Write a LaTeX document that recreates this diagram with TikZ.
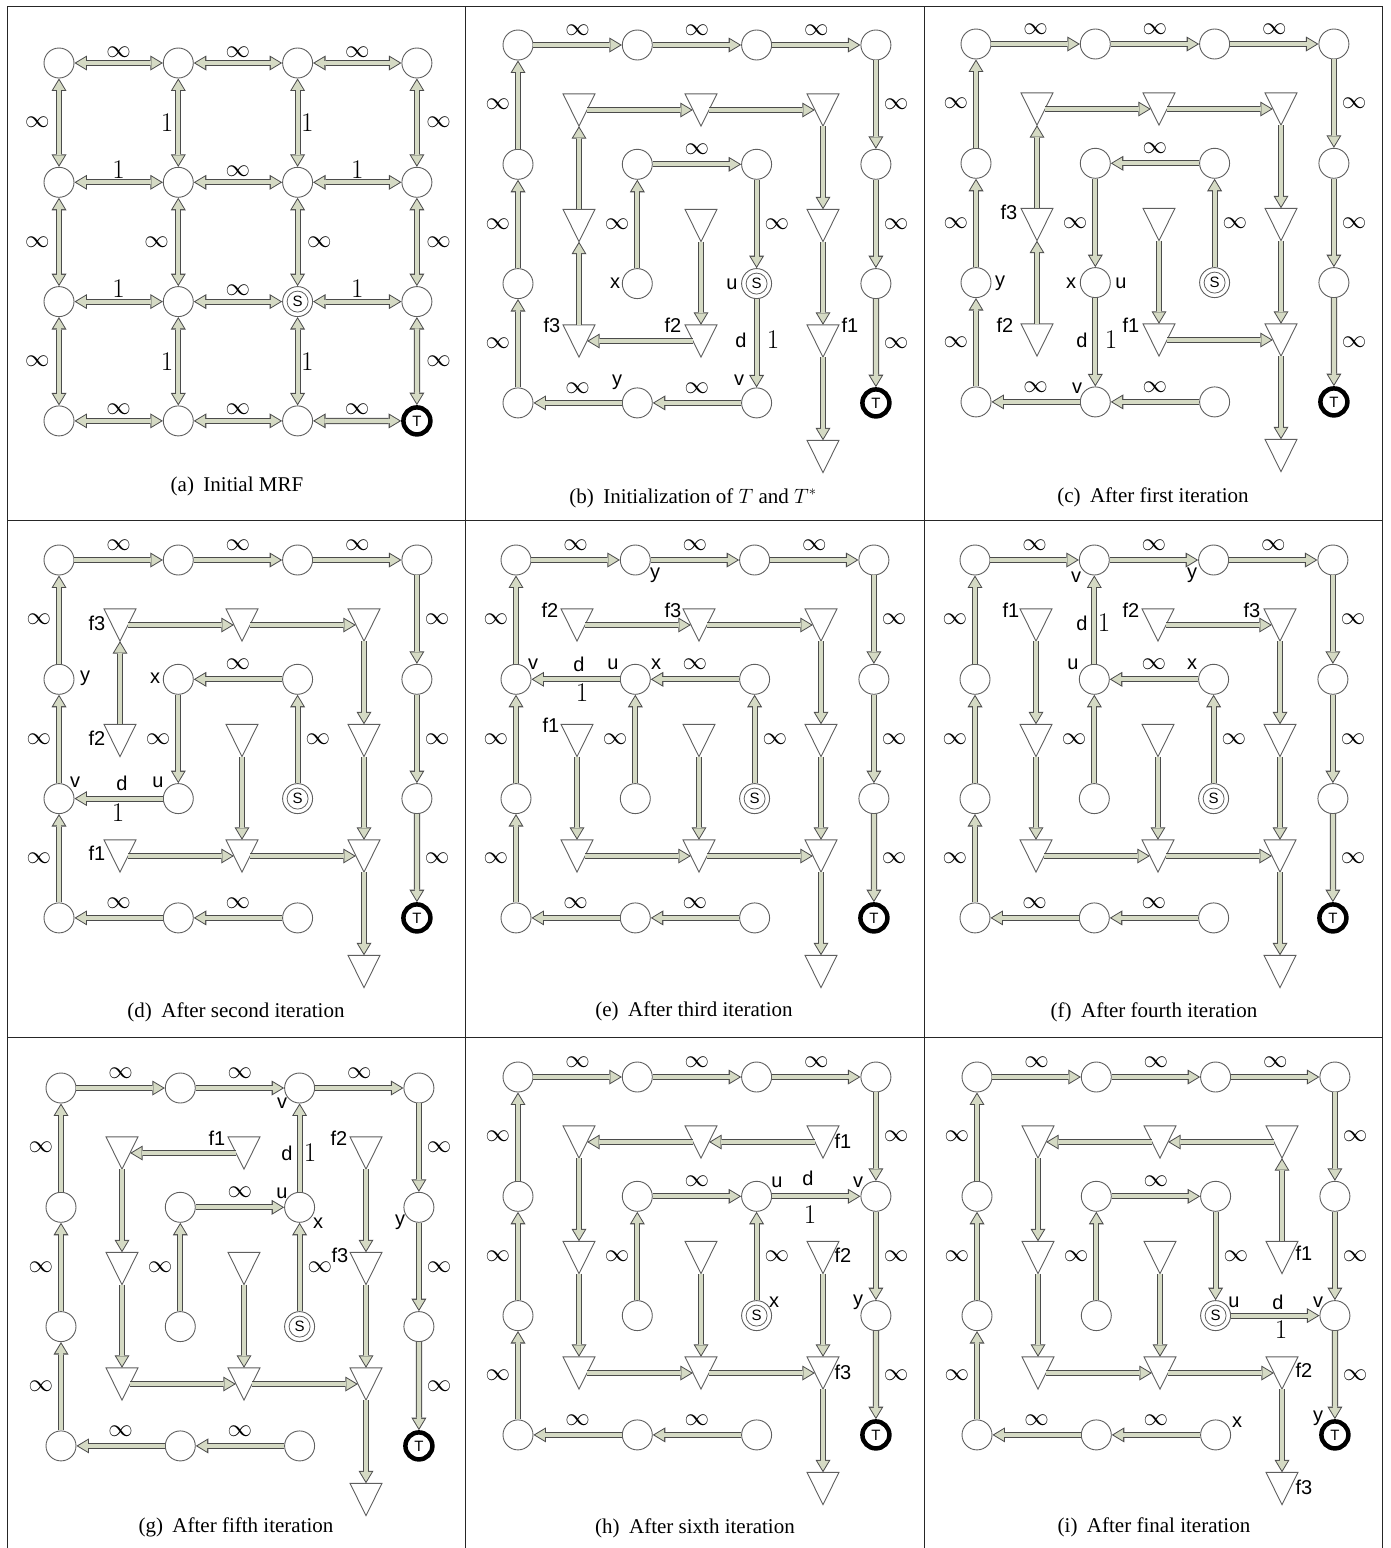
\documentclass[tikz,border=0pt]{standalone}
\usepackage{fontspec}
\usepackage{graphicx}
\usetikzlibrary{arrows.meta}
\newfontfamily\sansf{Liberation Sans}
\newfontfamily\serff{Liberation Serif}
\definecolor{afill}{RGB}{213,218,196}
\definecolor{aline}{RGB}{75,75,75}
\definecolor{cline}{RGB}{95,95,95}
\newcommand\infsym{\scalebox{1.18}{$\infty$}}
\tikzset{
  cir/.style={circle, draw=cline, fill=white, line width=0.9pt, minimum size=30pt, inner sep=0pt},
  sin/.style={circle, draw=cline, line width=0.8pt, minimum size=21pt, inner sep=0pt, font=\sansf\fontsize{15}{15}\selectfont},
  tnode/.style={circle, draw=black, fill=white, line width=4.5pt, minimum size=27pt, inner sep=0pt, font=\sansf\fontsize{15}{15}\selectfont},
  trinode/.style={rectangle, minimum width=16pt, minimum height=32pt, inner sep=0pt},
  tril/.style={draw=cline, fill=white, line width=0.9pt, line join=miter},
  outtip/.tip={Triangle[length=12.5pt,width=15pt,line width=0pt]},
  intip/.tip={Triangle[length=9.5pt,width=11.5pt,line width=0pt]},
  fat/.style={draw=afill, line width=4.2pt, -{intip}, shorten >=1.9pt,
    preaction={draw=aline, line width=6.2pt, -{outtip}, shorten >=0pt}},
  fatb/.style={draw=afill, line width=4.2pt, {intip}-{intip}, shorten >=1.9pt, shorten <=1.9pt,
    preaction={draw=aline, line width=6.2pt, {outtip}-{outtip}, shorten >=0pt, shorten <=0pt}},
  inf/.style={font=\fontsize{21}{21}\selectfont, inner sep=0pt, outer sep=0pt},
  ia/.style={inf, above=9.7pt},
  il/.style={inf, left=8pt},
  ir/.style={inf, right=8pt},
  iaA/.style={inf, above=6pt},
  ilA/.style={inf, left=9.5pt},
  irA/.style={inf, right=9.5pt},
  one/.style={font=\fontsize{27}{27}\selectfont, inner sep=0pt, outer sep=0pt},
  oneA/.style={one, above=4pt},
  oneL/.style={one, left=5pt},
  oneR/.style={one, right=3.5pt},
  lab/.style={font=\sansf\fontsize{20}{20}\selectfont, inner sep=0pt},
  captxt/.style={font=\serff\fontsize{21}{24}\selectfont, inner sep=0pt},
  frame/.style={draw=black!85, line width=1pt}
}
\newcommand\mktri[2]{\node[trinode] (#1) at (#2) {};\draw[tril] ([xshift=-16pt]#1.north) -- ([xshift=16pt]#1.north) -- (#1.south) -- cycle;}
\newcommand\mkcircles[1]{%
  \foreach \i/\j in {0/0,1/0,2/0,3/0,0/1,1/1,2/1,3/1,0/2,1/2,3/2,0/3,1/3,2/3}{\node[cir] (#1c\i\j) at (119.3*\i,119.3*\j) {};}
  \node[cir] (#1c22) at (238.6,238.6) {};
  \node[sin] (#1s) at (#1c22) {S};
  \node[tnode] (#1c33) at (357.9,357.9) {T};
}
\newcommand\mktris[1]{%
  \foreach \i/\j in {0/0,1/0,2/0,0/1,1/1,2/1,0/2,1/2,2/2,2/3}{\mktri{#1t\i\j}{61+122*\i,65+115.5*\j}}
}
\newcommand\arrw[2]{\draw[fat] (#1) -- (#2);}
\newcommand\arrwi[3]{\draw[fat] (#1) -- node[#3] {\infsym} (#2);}
\newcommand\arrwb[4]{\draw[fatb] (#1) -- node[#3] {#4} (#2);}
\newcommand\outerarrows[1]{%
  \arrwi{#1c00}{#1c10}{ia}\arrwi{#1c10}{#1c20}{ia}\arrwi{#1c20}{#1c30}{ia}%
  \arrwi{#1c30}{#1c31}{ir}\arrwi{#1c31}{#1c32}{ir}\arrwi{#1c32}{#1c33}{ir}%
  \arrwi{#1c01}{#1c00}{il}\arrwi{#1c02}{#1c01}{il}\arrwi{#1c03}{#1c02}{il}%
  \arrwi{#1c13}{#1c03}{ia}\arrwi{#1c23}{#1c13}{ia}}
\begin{document}
\begin{tikzpicture}[x=1pt,y=-1pt]
\useasboundingbox (0,0) rectangle (1390,1548);
\draw[frame] (7,1548) -- (7,6) -- (1382,6) -- (1382,1548);
\draw[frame] (465,6) -- (465,1548);
\draw[frame] (924,6) -- (924,1548);
\draw[frame] (7,520) -- (1382,520);
\draw[frame] (7,1037) -- (1382,1037);

% ---------------- (a)
\begin{scope}[shift={(59,63)}]
\mkcircles{a}
\arrwb{ac00}{ac10}{iaA}{\infsym}
\arrwb{ac10}{ac20}{iaA}{\infsym}
\arrwb{ac20}{ac30}{iaA}{\infsym}
\arrwb{ac01}{ac11}{oneA}{1}
\arrwb{ac11}{ac21}{iaA}{\infsym}
\arrwb{ac21}{ac31}{oneA}{1}
\arrwb{ac02}{ac12}{oneA}{1}
\arrwb{ac12}{ac22}{iaA}{\infsym}
\arrwb{ac22}{ac32}{oneA}{1}
\arrwb{ac03}{ac13}{iaA}{\infsym}
\arrwb{ac13}{ac23}{iaA}{\infsym}
\arrwb{ac23}{ac33}{iaA}{\infsym}
\arrwb{ac00}{ac01}{ilA}{\infsym}
\arrwb{ac01}{ac02}{ilA}{\infsym}
\arrwb{ac02}{ac03}{ilA}{\infsym}
\arrwb{ac10}{ac11}{oneL}{1}
\arrwb{ac11}{ac12}{ilA}{\infsym}
\arrwb{ac12}{ac13}{oneL}{1}
\arrwb{ac20}{ac21}{oneR}{1}
\arrwb{ac21}{ac22}{irA}{\infsym}
\arrwb{ac22}{ac23}{oneR}{1}
\arrwb{ac30}{ac31}{irA}{\infsym}
\arrwb{ac31}{ac32}{irA}{\infsym}
\arrwb{ac32}{ac33}{irA}{\infsym}
\end{scope}
\node[captxt] (capa) at (237,486) {(a)\hspace{0.45em}Initial MRF};

% ---------------- (b)
\begin{scope}[shift={(518,45)}]
\mkcircles{b}\mktris{b}
\outerarrows{b}
\arrwi{bc11}{bc21}{ia}
\arrwi{bc21}{bc22}{ir}
\arrw{bc22}{bc23}
\arrwi{bc12}{bc11}{il}
\arrw{bt00}{bt10}\arrw{bt10}{bt20}\arrw{bt20}{bt21}\arrw{bt21}{bt22}\arrw{bt22}{bt23}
\arrw{bt01}{bt00}\arrw{bt02}{bt01}\arrw{bt12}{bt02}\arrw{bt11}{bt12}
\end{scope}
\node[lab] (lbx) at (615,283) {x};
\node[lab] (lbu) at (732,284) {u};
\node[lab] (lby) at (617,382) {y};
\node[lab] (lbv) at (739,380) {v};
\node[lab] (lbd) at (741,340) {d};
\node[one] (lb1) at (773,340) {1};
\node[lab] (lbf3) at (552,325) {f3};
\node[lab] (lbf2) at (673,325) {f2};
\node[lab] (lbf1) at (850,325) {f1};
\node[captxt] (capb) at (693,498) {(b)\hspace{0.45em}Initialization of $T$ and $T^*$};

% ---------------- (c)
\begin{scope}[shift={(976,44)}]
\mkcircles{c}\mktris{c}
\outerarrows{c}
\arrwi{cc21}{cc11}{ia}
\arrwi{cc11}{cc12}{il}
\arrwi{cc22}{cc21}{ir}
\arrw{cc12}{cc13}
\arrw{ct00}{ct10}\arrw{ct10}{ct20}\arrw{ct20}{ct21}\arrw{ct21}{ct22}\arrw{ct22}{ct23}
\arrw{ct01}{ct00}\arrw{ct02}{ct01}\arrw{ct11}{ct12}\arrw{ct12}{ct22}
\end{scope}
\node[lab] (lcf3) at (1009,212) {f3};
\node[lab] (lcf2) at (1005,325) {f2};
\node[lab] (lcf1) at (1131,325) {f1};
\node[lab] (lcy) at (1000,283) {y};
\node[lab] (lcx) at (1071,283) {x};
\node[lab] (lcu) at (1121,283) {u};
\node[lab] (lcd) at (1082,340) {d};
\node[one] (lc1) at (1111,340) {1};
\node[lab] (lcv) at (1077,388) {v};
\node[captxt] (capc) at (1153,497) {(c)\hspace{0.45em}After first iteration};

% ---------------- (d)
\begin{scope}[shift={(59,560)}]
\mkcircles{d}\mktris{d}
\outerarrows{d}
\arrwi{dc21}{dc11}{ia}
\arrwi{dc11}{dc12}{il}
\arrwi{dc22}{dc21}{ir}
\arrw{dc12}{dc02}
\arrw{dt00}{dt10}\arrw{dt10}{dt20}\arrw{dt20}{dt21}\arrw{dt21}{dt22}\arrw{dt22}{dt23}
\arrw{dt01}{dt00}\arrw{dt02}{dt12}\arrw{dt12}{dt22}\arrw{dt11}{dt12}
\end{scope}
\node[lab] (ldf3) at (97,623) {f3};
\node[lab] (ldy) at (85,678) {y};
\node[lab] (ldx) at (155,678) {x};
\node[lab] (ldf2) at (97,738) {f2};
\node[lab] (ldv) at (75,782) {v};
\node[lab] (ldd) at (122,783) {d};
\node[lab] (ldu) at (158,782) {u};
\node[one] (ld1) at (118,813) {1};
\node[lab] (ldf1) at (97,853) {f1};
\node[captxt] (capd) at (236,1012) {(d)\hspace{0.45em}After second iteration};

% ---------------- (e)
\begin{scope}[shift={(516,560)}]
\mkcircles{e}\mktris{e}
\outerarrows{e}
\arrwi{ec21}{ec11}{ia}
\arrw{ec11}{ec01}
\arrwi{ec12}{ec11}{il}
\arrwi{ec22}{ec21}{ir}
\arrw{et00}{et10}\arrw{et10}{et20}\arrw{et20}{et21}\arrw{et21}{et22}\arrw{et22}{et23}
\arrw{et01}{et02}\arrw{et02}{et12}\arrw{et12}{et22}\arrw{et11}{et12}
\end{scope}
\node[lab] (ley) at (655,575) {y};
\node[lab] (lef2) at (550,610) {f2};
\node[lab] (lef3) at (673,610) {f3};
\node[lab] (lev) at (533,664) {v};
\node[lab] (led) at (579,664) {d};
\node[lab] (leu) at (613,664) {u};
\node[lab] (lex) at (656,664) {x};
\node[one] (le1) at (582,693) {1};
\node[lab] (lef1) at (551,725) {f1};
\node[captxt] (cape) at (694,1011) {(e)\hspace{0.45em}After third iteration};

% ---------------- (f)
\begin{scope}[shift={(975,560)}]
\mkcircles{f}\mktris{f}
\outerarrows{f}
\arrw{fc11}{fc10}
\arrwi{fc21}{fc11}{ia}
\arrwi{fc12}{fc11}{il}
\arrwi{fc22}{fc21}{ir}
\arrw{ft00}{ft01}\arrw{ft01}{ft02}\arrw{ft10}{ft20}\arrw{ft20}{ft21}\arrw{ft21}{ft22}\arrw{ft22}{ft23}
\arrw{ft02}{ft12}\arrw{ft12}{ft22}\arrw{ft11}{ft12}
\end{scope}
\node[lab] (lfv) at (1076,577) {v};
\node[lab] (lfy) at (1192,575) {y};
\node[lab] (lff1) at (1011,610) {f1};
\node[lab] (lfd) at (1082,623) {d};
\node[one] (lf1) at (1104,623) {1};
\node[lab] (lff2) at (1131,610) {f2};
\node[lab] (lff3) at (1252,610) {f3};
\node[lab] (lfu) at (1073,664) {u};
\node[lab] (lfx) at (1192,664) {x};
\node[captxt] (capf) at (1154,1012) {(f)\hspace{0.45em}After fourth iteration};

% ---------------- (g)
\begin{scope}[shift={(61,1088)}]
\mkcircles{g}\mktris{g}
\outerarrows{g}
\arrwi{gc11}{gc21}{ia}
\arrw{gc21}{gc20}
\arrwi{gc12}{gc11}{il}
\arrwi{gc22}{gc21}{ir}
\arrw{gt10}{gt00}\arrw{gt00}{gt01}\arrw{gt01}{gt02}\arrw{gt02}{gt12}\arrw{gt12}{gt22}
\arrw{gt11}{gt12}\arrw{gt20}{gt21}\arrw{gt21}{gt22}\arrw{gt22}{gt23}
\end{scope}
\node[lab] (lgv) at (282,1103) {v};
\node[lab] (lgf1) at (217,1138) {f1};
\node[lab] (lgd) at (287,1153) {d};
\node[one] (lg1) at (310,1153) {1};
\node[lab] (lgf2) at (339,1138) {f2};
\node[lab] (lgu) at (282,1193) {u};
\node[lab] (lgx) at (318,1223) {x};
\node[lab] (lgy) at (400,1222) {y};
\node[lab] (lgf3) at (340,1255) {f3};
\node[captxt] (capg) at (236,1527) {(g)\hspace{0.45em}After fifth iteration};

% ---------------- (h)
\begin{scope}[shift={(518,1077)}]
\mkcircles{h}\mktris{h}
\outerarrows{h}
\arrwi{hc11}{hc21}{ia}
\arrw{hc21}{hc31}
\arrwi{hc12}{hc11}{il}
\arrwi{hc22}{hc21}{ir}
\arrw{ht20}{ht10}\arrw{ht10}{ht00}\arrw{ht00}{ht01}\arrw{ht01}{ht02}\arrw{ht02}{ht12}
\arrw{ht12}{ht22}\arrw{ht11}{ht12}\arrw{ht21}{ht22}\arrw{ht22}{ht23}
\end{scope}
\node[lab] (lhf1) at (843,1141) {f1};
\node[lab] (lhu) at (777,1182) {u};
\node[lab] (lhd) at (808,1178) {d};
\node[lab] (lhv) at (858,1182) {v};
\node[one] (lh1) at (810,1215) {1};
\node[lab] (lhf2) at (843,1255) {f2};
\node[lab] (lhx) at (774,1302) {x};
\node[lab] (lhy) at (858,1302) {y};
\node[lab] (lhf3) at (843,1372) {f3};
\node[captxt] (caph) at (695,1528) {(h)\hspace{0.45em}After sixth iteration};

% ---------------- (i)
\begin{scope}[shift={(977,1077)}]
\mkcircles{i}\mktris{i}
\outerarrows{i}
\arrwi{ic11}{ic21}{ia}
\arrwi{ic21}{ic22}{ir}
\arrw{ic22}{ic32}
\arrwi{ic12}{ic11}{il}
\arrw{it20}{it10}\arrw{it10}{it00}\arrw{it00}{it01}\arrw{it01}{it02}\arrw{it02}{it12}
\arrw{it12}{it22}\arrw{it11}{it12}\arrw{it21}{it20}\arrw{it22}{it23}
\end{scope}
\node[lab] (lif1) at (1304,1253) {f1};
\node[lab] (liu) at (1234,1302) {u};
\node[lab] (lid) at (1278,1302) {d};
\node[lab] (liv) at (1318,1302) {v};
\node[one] (li1) at (1281,1330) {1};
\node[lab] (lif2) at (1304,1370) {f2};
\node[lab] (lix) at (1237,1422) {x};
\node[lab] (liy) at (1318,1418) {y};
\node[lab] (lif3) at (1304,1487) {f3};
\node[captxt] (capi) at (1154,1527) {(i)\hspace{0.45em}After final iteration};
\end{tikzpicture}
\end{document}
